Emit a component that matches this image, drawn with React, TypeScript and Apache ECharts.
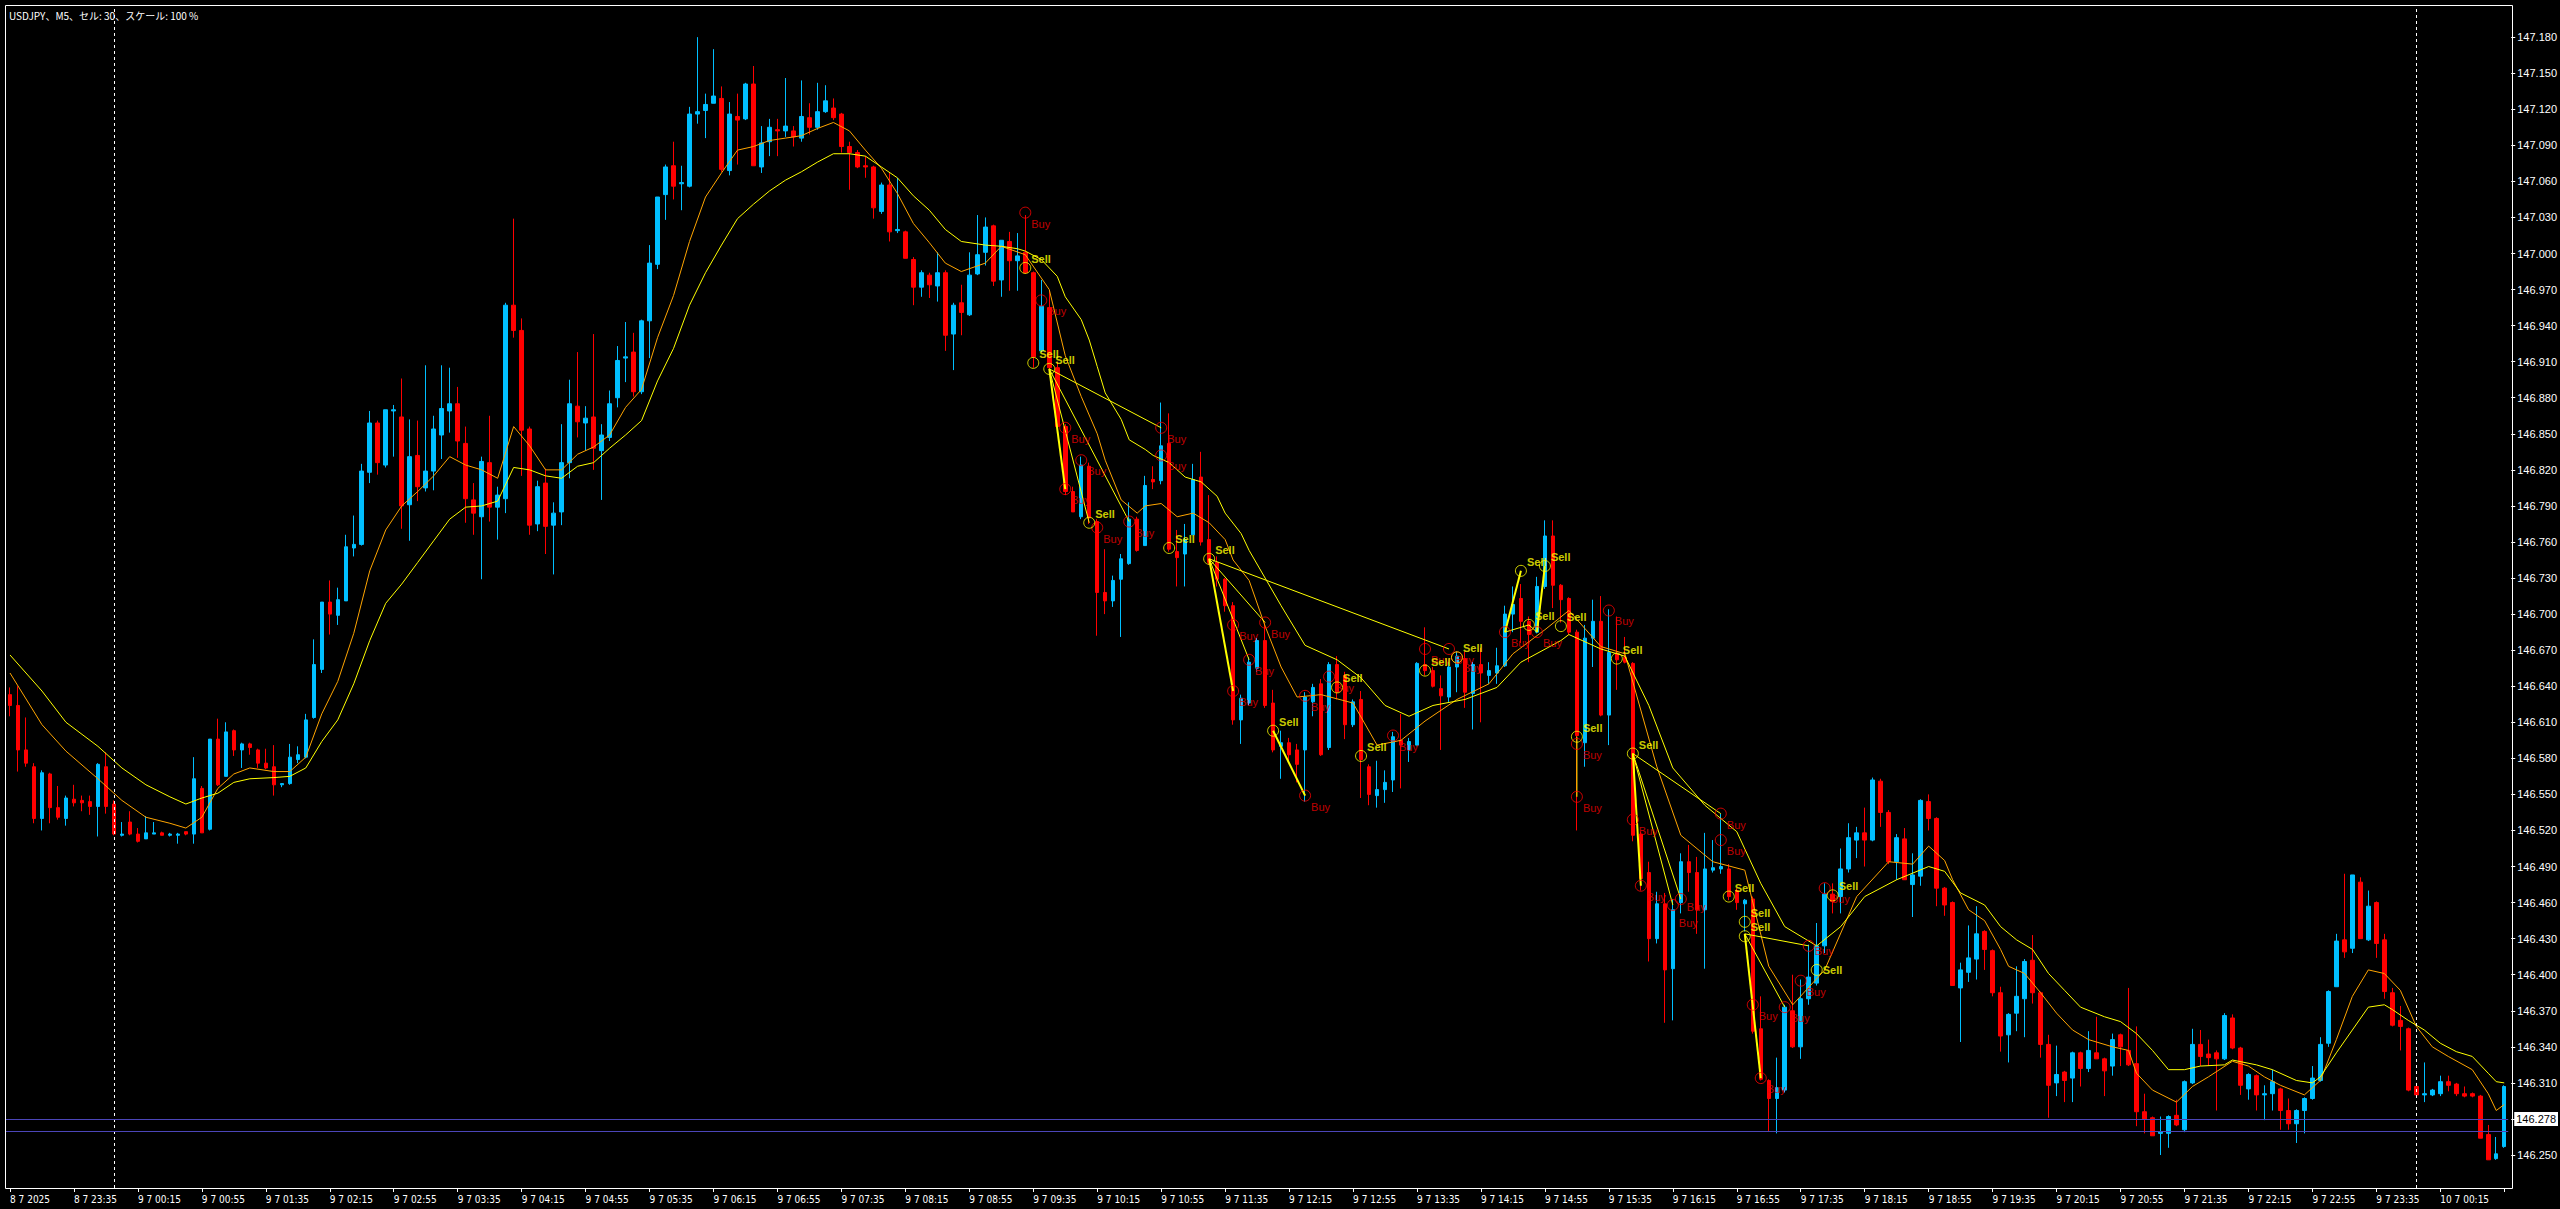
import React, { useEffect, useRef } from "react";
import * as echarts from "echarts";

const opens = [
  146.633,146.624,146.587,146.573,146.530,146.567,146.539,146.530,146.546,146.545,
  146.544,146.540,146.573,146.542,146.516,146.527,146.517,146.513,146.517,146.518,
  146.516,146.516,146.519,146.517,146.555,146.521,146.596,146.565,146.603,146.587,
  146.592,146.587,146.576,146.573,146.558,146.559,146.579,146.581,146.614,146.654,
  146.710,146.699,146.711,146.755,146.758,146.818,146.859,146.824,146.869,146.864,
  146.791,146.832,146.805,146.819,146.849,146.869,146.875,146.842,146.795,146.781,
  146.826,146.789,146.796,146.957,146.936,146.854,146.775,146.809,146.774,146.785,
  146.826,146.873,146.859,146.864,146.836,146.847,146.880,146.913,146.918,146.885,
  146.944,146.991,147.049,147.073,147.058,147.056,147.116,147.119,147.125,147.129,
  147.069,147.114,147.112,147.141,147.072,147.093,147.103,147.102,147.102,147.096,
  147.113,147.105,147.118,147.121,147.116,147.089,147.084,147.073,147.072,147.035,
  147.057,147.019,147.018,146.995,146.972,146.982,146.973,146.984,146.933,146.959,
  146.949,146.983,147.001,147.023,146.978,147.010,146.994,147.001,146.984,146.919,
  146.955,146.905,146.856,146.802,146.781,146.823,146.777,146.718,146.711,146.729,
  146.742,146.779,146.757,146.812,146.811,146.842,146.752,146.750,146.766,146.814,
  146.762,146.743,146.729,146.707,146.612,146.626,146.655,146.678,146.626,146.590,
  146.593,146.587,146.587,146.627,146.642,146.589,146.658,146.649,146.608,146.629,
  146.573,146.549,146.554,146.562,146.595,146.587,146.591,146.658,146.653,146.638,
  146.631,146.656,146.663,146.634,146.658,146.649,146.651,146.657,146.700,146.713,
  146.694,146.685,146.723,146.765,146.724,146.713,146.685,146.593,146.680,146.694,
  146.616,146.667,146.664,146.659,146.517,146.485,146.430,146.459,146.405,146.460,
  146.494,146.485,146.454,146.487,146.488,146.488,146.470,146.459,146.463,146.355,
  146.312,146.297,146.304,146.370,146.340,146.380,146.393,146.424,146.467,146.465,
  146.488,146.512,146.518,146.512,146.561,146.535,146.494,146.513,146.475,146.482,
  146.544,146.530,146.472,146.460,146.389,146.402,146.413,146.436,146.420,146.385,
  146.350,146.368,146.380,146.412,146.385,146.342,146.310,146.319,146.314,146.335,
  146.322,146.335,146.330,146.324,146.350,146.337,146.326,146.286,146.281,146.268,
  146.268,146.283,146.271,146.310,146.342,146.334,146.335,146.330,146.364,146.339,
  146.305,146.316,146.300,146.301,146.305,146.287,146.276,146.287,146.297,146.312,
  146.343,146.390,146.429,146.422,146.477,146.429,146.460,146.429,146.385,146.362,
  146.355,146.307,146.300,146.300,146.301,146.311,146.309,146.301,146.301,146.299,
  146.267,146.247,146.257,
];

const highs = [
  146.639,146.640,146.614,146.576,146.570,146.568,146.557,146.549,146.558,146.549,
  146.549,146.576,146.585,146.545,146.527,146.536,146.522,146.532,146.527,146.519,
  146.518,146.518,146.519,146.581,146.557,146.596,146.613,146.610,146.604,146.593,
  146.593,146.588,146.588,146.591,146.559,146.592,146.590,146.617,146.679,146.710,
  146.728,146.722,146.766,146.782,146.825,146.869,146.861,146.870,146.874,146.896,
  146.862,146.861,146.907,146.865,146.907,146.905,146.889,146.856,146.809,146.831,
  146.865,146.806,146.959,147.029,146.946,146.856,146.811,146.821,146.793,146.858,
  146.895,146.918,146.873,146.933,146.858,146.886,146.923,146.943,146.934,146.945,
  147.007,147.047,147.074,147.093,147.073,147.122,147.180,147.133,147.170,147.139,
  147.126,147.133,147.142,147.156,147.106,147.112,147.112,147.146,147.106,147.144,
  147.125,147.142,147.140,147.129,147.117,147.093,147.086,147.081,147.073,147.059,
  147.067,147.063,147.019,146.997,146.986,146.984,147.001,146.986,146.959,146.974,
  147.001,147.032,147.030,147.024,147.011,147.018,147.017,147.032,146.985,146.978,
  146.969,146.910,146.858,146.806,146.831,146.826,146.779,146.754,146.732,146.750,
  146.793,146.781,146.815,146.823,146.876,146.867,146.770,146.775,146.825,146.835,
  146.799,146.748,146.730,146.710,146.633,146.664,146.680,146.693,146.637,146.603,
  146.597,146.592,146.635,146.642,146.646,146.660,146.665,146.652,146.629,146.636,
  146.575,146.578,146.570,146.602,146.617,146.597,146.660,146.689,146.656,146.649,
  146.660,146.669,146.669,146.660,146.672,146.660,146.672,146.707,146.723,146.725,
  146.698,146.731,146.778,146.778,146.725,146.714,146.687,146.691,146.712,146.715,
  146.704,146.698,146.681,146.660,146.519,146.494,146.469,146.468,146.463,146.501,
  146.508,146.498,146.518,146.512,146.534,146.492,146.472,146.463,146.465,146.382,
  146.313,146.331,146.375,146.400,146.396,146.425,146.443,146.476,146.476,146.505,
  146.526,146.523,146.539,146.564,146.563,146.537,146.517,146.522,146.501,146.546,
  146.550,146.531,146.473,146.461,146.410,146.441,146.457,146.437,146.421,146.390,
  146.368,146.407,146.413,146.433,146.386,146.350,146.341,146.320,146.336,146.336,
  146.353,146.365,146.331,146.351,146.351,146.389,146.357,146.301,146.282,146.282,
  146.283,146.296,146.312,146.355,146.354,146.346,146.337,146.368,146.367,146.340,
  146.318,146.317,146.308,146.321,146.306,146.297,146.288,146.298,146.324,146.348,
  146.387,146.434,146.484,146.483,146.481,146.470,146.461,146.434,146.389,146.374,
  146.356,146.310,146.327,146.305,146.316,146.316,146.310,146.307,146.302,146.300,
  146.275,146.265,146.308,
];

const lows = [
  146.615,146.569,146.573,146.526,146.520,146.526,146.529,146.524,146.540,146.536,
  146.533,146.515,146.534,146.516,146.515,146.516,146.510,146.513,146.517,146.516,
  146.515,146.509,146.516,146.509,146.518,146.520,146.557,146.565,146.582,146.572,
  146.583,146.572,146.571,146.549,146.556,146.558,146.576,146.580,146.613,146.651,
  146.683,146.691,146.711,146.748,146.757,146.809,146.816,146.822,146.831,146.771,
  146.761,146.794,146.802,146.803,146.829,146.851,146.830,146.776,146.766,146.729,
  146.777,146.762,146.784,146.930,146.815,146.766,146.769,146.750,146.733,146.774,
  146.813,146.847,146.836,146.820,146.795,146.844,146.872,146.893,146.881,146.883,
  146.913,146.987,147.028,147.045,147.036,147.055,147.108,147.096,147.125,147.068,
  147.065,147.074,147.111,147.073,147.067,147.081,147.081,147.097,147.089,147.093,
  147.099,147.103,147.117,147.111,147.084,147.053,147.071,147.063,147.029,147.033,
  147.010,147.017,146.996,146.957,146.964,146.963,146.960,146.919,146.903,146.932,
  146.948,146.982,146.990,146.973,146.964,146.969,146.969,146.983,146.905,146.918,
  146.901,146.855,146.799,146.785,146.779,146.775,146.682,146.700,146.706,146.681,
  146.741,146.752,146.757,146.804,146.808,146.752,146.723,146.723,146.766,146.757,
  146.741,146.723,146.702,146.608,146.592,146.624,146.652,146.622,146.585,146.563,
  146.578,146.560,146.544,146.615,146.582,146.587,146.629,146.596,146.606,146.547,
  146.541,146.539,146.543,146.552,146.555,146.577,146.590,146.649,146.639,146.587,
  146.627,146.635,146.622,146.604,146.610,146.642,146.642,146.656,146.685,146.676,
  146.660,146.684,146.721,146.705,146.693,146.683,146.520,146.573,146.656,146.615,
  146.591,146.637,146.659,146.511,146.470,146.411,146.426,146.360,146.362,146.451,
  146.469,146.434,146.405,146.485,146.484,146.462,146.454,146.436,146.351,146.312,
  146.270,146.268,146.302,146.339,146.330,146.375,146.391,146.418,146.451,146.451,
  146.485,146.497,146.490,146.511,146.523,146.492,146.479,146.479,146.448,146.474,
  146.520,146.457,146.449,146.391,146.344,146.394,146.396,146.404,146.382,146.336,
  146.327,146.353,146.348,146.376,146.331,146.281,146.299,146.294,146.294,146.307,
  146.319,146.330,146.299,146.316,146.324,146.324,146.274,146.268,146.266,146.250,
  146.256,146.274,146.269,146.309,146.324,146.324,146.287,146.329,146.338,146.300,
  146.296,146.287,146.279,146.287,146.271,146.271,146.260,146.268,146.296,146.311,
  146.340,146.390,146.414,146.418,146.430,146.428,146.414,146.380,146.357,146.337,
  146.303,146.300,146.294,146.299,146.299,146.303,146.299,146.298,146.298,146.264,
  146.246,146.246,146.256,
];

const closes = [
  146.624,146.587,146.576,146.530,146.568,146.539,146.531,146.547,146.543,146.543,
  146.540,146.575,146.540,146.517,146.517,146.517,146.511,146.518,146.518,146.516,
  146.517,146.517,146.517,146.563,146.518,146.596,146.558,146.602,146.587,146.592,
  146.589,146.576,146.572,146.558,146.559,146.581,146.583,146.612,146.658,146.710,
  146.700,146.712,146.756,146.758,146.819,146.859,146.826,146.870,146.870,146.790,
  146.831,146.806,146.819,146.854,146.871,146.875,146.844,146.796,146.784,146.827,
  146.789,146.799,146.957,146.936,146.853,146.774,146.806,146.773,146.784,146.826,
  146.875,146.860,146.863,146.838,146.849,146.875,146.911,146.914,146.885,146.944,
  146.992,147.047,147.072,147.056,147.059,147.116,147.118,147.124,147.131,147.070,
  147.116,147.111,147.141,147.073,147.092,147.105,147.102,147.106,147.097,147.114,
  147.105,147.118,147.127,147.113,147.089,147.084,147.072,147.072,147.038,147.057,
  147.018,147.020,146.996,146.972,146.984,146.974,146.984,146.932,146.957,146.951,
  146.982,146.999,147.022,146.977,147.011,146.994,146.998,146.984,146.914,146.956,
  146.905,146.856,146.802,146.785,146.824,146.780,146.718,146.711,146.728,146.746,
  146.779,146.753,146.807,146.810,146.840,146.754,146.747,146.762,146.812,146.760,
  146.743,146.729,146.707,146.612,146.630,146.660,146.678,146.624,146.587,146.593,
  146.583,146.575,146.631,146.639,146.583,146.658,146.635,146.608,146.627,146.579,
  146.550,146.554,146.560,146.598,146.591,146.594,146.659,146.653,146.640,146.632,
  146.656,146.665,146.635,146.658,146.651,146.653,146.657,146.700,146.708,146.694,
  146.683,146.723,146.765,146.724,146.712,146.685,146.599,146.680,146.694,146.616,
  146.668,146.662,146.660,146.516,146.480,146.430,146.459,146.404,146.454,146.494,
  146.485,146.454,146.488,146.489,146.490,146.465,146.460,146.462,146.353,146.313,
  146.297,146.306,146.373,146.340,146.380,146.398,146.424,146.467,146.461,146.488,
  146.514,146.518,146.512,146.562,146.535,146.494,146.514,146.479,146.483,146.545,
  146.530,146.472,146.458,146.391,146.404,146.414,146.434,146.421,146.385,146.349,
  146.367,146.382,146.411,146.385,146.342,146.308,146.317,146.312,146.335,146.322,
  146.337,146.330,146.320,146.346,146.340,146.325,146.286,146.280,146.266,146.269,
  146.282,146.275,146.311,146.342,146.332,146.331,146.330,146.366,146.339,146.308,
  146.317,146.300,146.301,146.311,146.287,146.276,146.287,146.297,146.314,146.342,
  146.386,146.428,146.419,146.483,146.430,146.457,146.426,146.386,146.358,146.357,
  146.304,146.300,146.301,146.304,146.311,146.308,146.301,146.299,146.299,146.264,
  146.246,146.251,146.307,
];

// time-axis labels, one every 8 bars (M5 -> every 40 minutes)
const timeTickLabels = [
  "8 7 2025", "8 7 23:35", "9 7 00:15", "9 7 00:55", "9 7 01:35", "9 7 02:15",
  "9 7 02:55", "9 7 03:35", "9 7 04:15", "9 7 04:55", "9 7 05:35", "9 7 06:15",
  "9 7 06:55", "9 7 07:35", "9 7 08:15", "9 7 08:55", "9 7 09:35", "9 7 10:15",
  "9 7 10:55", "9 7 11:35", "9 7 12:15", "9 7 12:55", "9 7 13:35", "9 7 14:15",
  "9 7 14:55", "9 7 15:35", "9 7 16:15", "9 7 16:55", "9 7 17:35", "9 7 18:15",
  "9 7 18:55", "9 7 19:35", "9 7 20:15", "9 7 20:55", "9 7 21:35", "9 7 22:15",
  "9 7 22:55", "9 7 23:35", "10 7 00:15",
];
const labelEvery = 8;

const priceTicks = [
  146.25, 146.28, 146.31, 146.34, 146.37, 146.40, 146.43, 146.46, 146.49, 146.52,
  146.55, 146.58, 146.61, 146.64, 146.67, 146.70, 146.73, 146.76, 146.79, 146.82,
  146.85, 146.88, 146.91, 146.94, 146.97, 147.00, 147.03, 147.06, 147.09, 147.12,
  147.15, 147.18,
];
const hiddenPriceLabels = [146.28];

// moving averages: [bar index, value]
const maFast = [
  [0,146.651],[4,146.608],[7,146.586],[11,146.563],[14,146.545],[17,146.531],[20,146.526],[22,146.522],
  [24,146.531],[26,146.555],[28,146.567],[30,146.572],[33,146.569],[35,146.569],[37,146.581],[39,146.617],
  [41,146.644],[43,146.684],[45,146.736],[47,146.770],[49,146.790],[51,146.802],[53,146.815],[55,146.831],
  [57,146.824],[59,146.820],[61,146.813],[63,146.856],[65,146.840],[67,146.820],[69,146.820],[71,146.833],
  [73,146.839],[75,146.849],[77,146.872],[79,146.887],[81,146.930],[83,146.965],[85,147.010],[87,147.047],
  [89,147.067],[91,147.086],[93,147.089],[95,147.094],[97,147.096],[99,147.098],[101,147.104],[103,147.109],
  [105,147.102],[107,147.086],[109,147.071],[111,147.050],[113,147.025],[115,147.009],[117,146.992],[119,146.985],
  [122,146.992],[124,147.006],[127,146.999],[130,146.970],[132,146.915],[134,146.881],[136,146.850],[137,146.828],
  [139,146.795],[141,146.784],[142,146.790],[144,146.792],[146,146.781],[148,146.784],[150,146.776],[152,146.762],
  [153,146.745],[155,146.728],[157,146.690],[159,146.656],[161,146.631],[164,146.633],[168,146.626],[171,146.591],
  [174,146.595],[177,146.611],[181,146.629],[185,146.642],[188,146.667],[192,146.687],[195,146.703],[199,146.673],
  [202,146.667],[206,146.573],[209,146.516],[213,146.494],[217,146.487],[220,146.407],[223,146.375],[227,146.404],
  [231,146.465],[235,146.494],[238,146.492],[240,146.507],[242,146.495],[243,146.479],[245,146.454],[247,146.445],
  [249,146.421],[250,146.407],[252,146.401],[254,146.385],[256,146.368],[258,146.354],[260,146.346],[263,146.340],
  [265,146.337],[266,146.318],[268,146.304],[271,146.294],[273,146.307],[275,146.315],[278,146.328],[280,146.324],
  [282,146.315],[284,146.308],[287,146.300],[289,146.312],[291,146.346],[293,146.382],[295,146.404],[297,146.401],
  [299,146.387],[301,146.357],[303,146.340],[305,146.332],[308,146.321],[310,146.301],[311,146.287],[312,146.292],
];

const maSlow = [
  [0,146.666],[4,146.636],[7,146.610],[11,146.590],[14,146.572],[17,146.558],[20,146.548],[22,146.542],
  [24,146.547],[26,146.551],[28,146.560],[30,146.563],[33,146.564],[35,146.565],[37,146.572],[39,146.594],
  [41,146.612],[43,146.642],[45,146.678],[47,146.709],[49,146.725],[51,146.743],[53,146.761],[55,146.779],
  [57,146.789],[59,146.790],[61,146.794],[63,146.822],[65,146.820],[67,146.815],[69,146.813],[71,146.823],
  [73,146.826],[75,146.838],[77,146.849],[79,146.861],[81,146.894],[83,146.921],[85,146.957],[87,146.984],
  [89,147.007],[91,147.029],[93,147.041],[95,147.052],[97,147.061],[99,147.068],[101,147.076],[103,147.083],
  [105,147.083],[107,147.081],[109,147.072],[111,147.063],[113,147.048],[115,147.036],[117,147.020],[119,147.010],
  [122,147.007],[124,147.006],[126,147.004],[127,147.002],[129,146.995],[131,146.981],[132,146.964],[134,146.945],
  [135,146.928],[136,146.906],[137,146.884],[139,146.862],[140,146.845],[142,146.837],[143,146.832],[145,146.826],
  [147,146.814],[149,146.810],[151,146.798],[152,146.784],[154,146.767],[155,146.753],[157,146.730],[159,146.707],
  [162,146.674],[166,146.662],[169,146.647],[172,146.624],[175,146.615],[178,146.624],[182,146.629],[186,146.639],
  [189,146.660],[194,146.678],[195,146.683],[199,146.671],[202,146.665],[205,146.624],[208,146.572],[212,146.541],
  [216,146.519],[219,146.476],[222,146.440],[226,146.424],[229,146.440],[232,146.465],[236,146.479],[240,146.490],
  [242,146.486],[244,146.468],[247,146.458],[249,146.440],[251,146.429],[253,146.421],[255,146.401],[257,146.387],
  [259,146.373],[262,146.365],[264,146.361],[266,146.351],[268,146.337],[270,146.321],[272,146.321],[274,146.324],
  [277,146.325],[278,146.329],[281,146.325],[283,146.321],[286,146.312],[288,146.310],[289,146.315],[291,146.335],
  [293,146.354],[295,146.373],[297,146.375],[298,146.371],[300,146.362],[302,146.354],[304,146.343],[306,146.336],
  [308,146.332],[310,146.318],[311,146.311],[312,146.310],
];

// indicator signals: [bar index, price]
const sellSignals = [
  [127,146.988],[128,146.909],[130,146.904],[135,146.776],[145,146.755],[150,146.746],[158,146.603],
  [166,146.639],[169,146.582],[177,146.653],[181,146.664],[189,146.736],[190,146.691],[192,146.740],
  [194,146.690],[196,146.598],[201,146.663],[203,146.584],[215,146.465],[217,146.444],[217,146.432],
  [226,146.404],[228,146.466],
];
const buySignals = [
  [127,147.034],[129,146.961],[132,146.855],[132,146.804],[134,146.828],[136,146.772],[140,146.777],
  [144,146.855],[144,146.832],[153,146.691],[153,146.636],[155,146.662],[157,146.693],[162,146.632],
  [162,146.549],[165,146.648],[173,146.599],[177,146.671],[180,146.671],[181,146.664],[187,146.685],
  [191,146.685],[196,146.592],[196,146.548],[200,146.703],[203,146.529],[204,146.474],[208,146.458],
  [209,146.463],[214,146.534],[214,146.512],[218,146.375],[219,146.314],[222,146.373],[224,146.395],
  [225,146.424],[227,146.472],
];
// signal connecting lines: [from bar, from price, to bar, to price, strong]
const signalLinks = [
  [130,146.904,132,146.804,1],[130,146.904,135,146.776,0],[130,146.904,140,146.777,0],[130,146.904,144,146.855,0],
  [150,146.746,153,146.636,1],[150,146.746,155,146.662,0],[150,146.746,157,146.693,0],[150,146.746,180,146.671,0],
  [158,146.603,162,146.549,1],
  [187,146.685,189,146.736,1],[187,146.685,190,146.691,0],[190,146.691,191,146.685,0],[191,146.685,192,146.740,1],
  [196,146.598,196,146.548,0],
  [203,146.584,204,146.474,1],[203,146.584,208,146.458,0],[203,146.584,209,146.463,0],[203,146.584,214,146.534,0],
  [217,146.434,219,146.314,1],[217,146.434,222,146.373,0],[217,146.434,225,146.424,0],
];

const daySeparators = [13, 301];
const askLevel = 146.278;
const bidLevel = 146.274;
const titleText = "USDJPY、M5、セル: 30、スケール: 100 %";

const W = 2560;
const H = 1209;
const PLOT_LEFT = 5;
const PLOT_TOP = 5;
const PLOT_RIGHT = 2513;
const PLOT_BOTTOM = 1188;
const Y_MIN = 146.22255;
const Y_MAX = 147.20674;

// small label nudges so that crowded signal labels stay readable
const BUY_LABEL_DY = 11;
const SELL_LABEL_DY = -9;
const buyLabelNudge: Record<string, number> = { "208": 18, "209": 8, "225": 5 };
const sellLabelNudge: Record<string, number> = { "226": 0 };

export default function App() {
  const ref = useRef<HTMLDivElement>(null);

  useEffect(() => {
    document.body.style.margin = "0";
    document.body.style.background = "#000";
    if (!ref.current) return;
    const chart = echarts.init(ref.current, undefined, { renderer: "svg" });

    const categories = opens.map((_, i) => String(i));
    const candleData = opens.map((o, i) => [o, closes[i], lows[i], highs[i]]);

    const linkSeries = signalLinks.map((l) => ({
      type: "line",
      data: [[l[0], l[1]], [l[2], l[3]]],
      symbol: "none",
      silent: true,
      z: 4,
      lineStyle: { color: "#FFFF00", width: l[4] ? 2 : 1 },
    }));

    const buyData = buySignals.map((p) => {
      const dy = buyLabelNudge[String(p[0])];
      return dy === undefined ? p : { value: p, label: { offset: [0, dy] } };
    });
    const sellData = sellSignals.map((p) => {
      const dy = sellLabelNudge[String(p[0])];
      return dy === undefined ? p : { value: p, label: { offset: [0, dy] } };
    });

    const labelFont = "'Liberation Sans', Arial, sans-serif";

    const option: any = {
      animation: false,
      backgroundColor: "#000000",
      grid: {
        left: PLOT_LEFT + 1,
        right: W - (PLOT_RIGHT - 3),
        top: PLOT_TOP,
        bottom: H - PLOT_BOTTOM,
        show: false,
      },
      xAxis: {
        type: "category",
        data: categories,
        boundaryGap: true,
        axisLine: { show: false },
        axisTick: {
          show: true,
          alignWithLabel: true,
          interval: (i: number) => i % labelEvery === 0,
          length: 4,
          lineStyle: { color: "#ffffff" },
        },
        axisLabel: {
          interval: (i: number) => i % labelEvery === 0,
          formatter: (_v: string, i: number) => timeTickLabels[Math.round(i / labelEvery)] ?? "",
          color: "#ffffff",
          fontSize: 10,
          align: "left",
          margin: 6,
          fontFamily: "'Liberation Sans Narrow', 'DejaVu Sans Condensed', 'Liberation Sans', sans-serif",
        },
        splitLine: { show: false },
      },
      yAxis: {
        type: "value",
        position: "right",
        offset: 3,
        min: Y_MIN,
        max: Y_MAX,
        axisLine: { show: false },
        axisTick: {
          show: true,
          customValues: priceTicks,
          length: 4,
          lineStyle: { color: "#ffffff" },
        },
        axisLabel: {
          customValues: priceTicks.filter((v) => !hiddenPriceLabels.includes(v)),
          formatter: (v: number) => v.toFixed(3),
          color: "#ffffff",
          fontSize: 11,
          margin: 6,
          fontFamily: labelFont,
        },
        splitLine: { show: false },
      },
      graphic: [
        {
          type: "rect",
          silent: true,
          z: 100,
          shape: {
            x: PLOT_LEFT + 0.5,
            y: PLOT_TOP + 0.5,
            width: PLOT_RIGHT - PLOT_LEFT - 1,
            height: PLOT_BOTTOM - PLOT_TOP,
          },
          style: { fill: "none", stroke: "#ffffff", lineWidth: 1 },
        },
        {
          type: "text",
          silent: true,
          z: 101,
          x: 9,
          y: 10,
          style: {
            text: titleText,
            fill: "#ffffff",
            fontSize: 10,
            fontFamily: "'Noto Sans CJK JP', 'Liberation Sans', sans-serif",
            verticalAlign: "top",
          },
        },
      ],
      series: [
        {
          type: "candlestick",
          data: candleData,
          barWidth: 4,
          z: 2,
          itemStyle: {
            color: "#00BFFF",
            color0: "#FF0000",
            borderColor: "#00BFFF",
            borderColor0: "#FF0000",
            borderWidth: 1,
          },
          markLine: {
            silent: true,
            symbol: ["none", "none"],
            animation: false,
            data: [
              ...daySeparators.map((d) => ({
                xAxis: String(d),
                lineStyle: { color: "#ffffff", type: [3, 3], width: 1 },
                label: { show: false },
              })),
              {
                yAxis: bidLevel,
                lineStyle: { color: "#4b45b8", type: "solid", width: 1 },
                label: { show: false },
              },
              {
                yAxis: askLevel,
                lineStyle: { color: "#4b45b8", type: "solid", width: 1 },
                label: {
                  show: true,
                  position: "end",
                  distance: 6,
                  formatter: askLevel.toFixed(3),
                  color: "#000000",
                  backgroundColor: "#ffffff",
                  padding: [2, 2, 1, 2],
                  fontSize: 11,
                  fontFamily: labelFont,
                },
              },
            ],
          },
        },
        {
          type: "line",
          data: maFast,
          symbol: "none",
          silent: true,
          z: 3,
          lineStyle: { color: "#FFA500", width: 1 },
        },
        {
          type: "line",
          data: maSlow,
          symbol: "none",
          silent: true,
          z: 3,
          lineStyle: { color: "#FFFF00", width: 1 },
        },
        ...linkSeries,
        {
          type: "scatter",
          data: buyData,
          symbol: "circle",
          symbolSize: 11,
          silent: true,
          z: 5,
          itemStyle: { color: "rgba(0,0,0,0)", borderColor: "#FF0000", borderWidth: 1 },
          label: {
            show: true,
            formatter: "Buy",
            position: "right",
            distance: 0,
            offset: [0, BUY_LABEL_DY],
            color: "#F00000",
            fontSize: 11,
            fontFamily: labelFont,
          },
        },
        {
          type: "scatter",
          data: sellData,
          symbol: "circle",
          symbolSize: 11,
          silent: true,
          z: 5,
          itemStyle: { color: "rgba(0,0,0,0)", borderColor: "#FFFF00", borderWidth: 1 },
          label: {
            show: true,
            formatter: "Sell",
            position: "right",
            distance: 0,
            offset: [0, SELL_LABEL_DY],
            color: "#FFFF00",
            fontWeight: "bold",
            fontSize: 11,
            fontFamily: labelFont,
          },
        },
      ],
    };

    chart.setOption(option);
    return () => {
      chart.dispose();
    };
  }, []);

  return <div ref={ref} style={{ width: W, height: H, background: "#000" }} />;
}
